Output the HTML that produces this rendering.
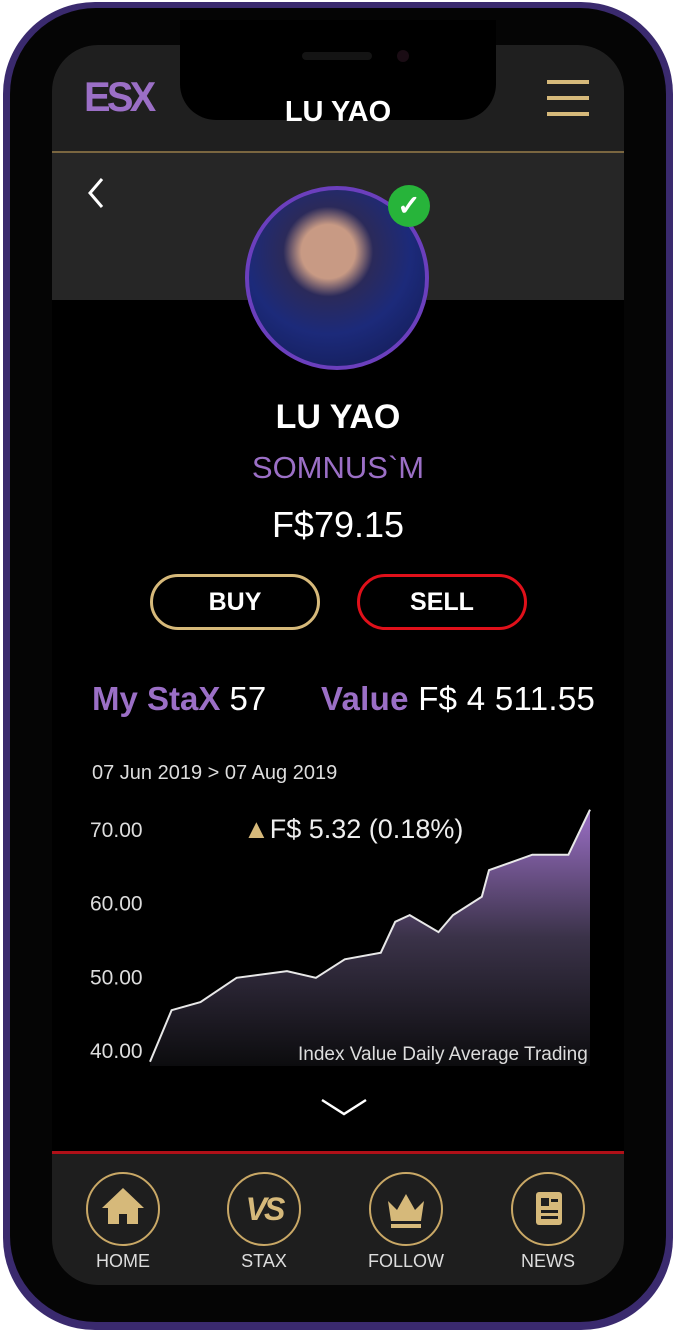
<!DOCTYPE html>
<html><head><meta charset="utf-8">
<style>
*{margin:0;padding:0;box-sizing:border-box}
body{width:676px;height:1334px;background:#fff;position:relative;overflow:hidden;font-family:"Liberation Sans Narrow","Liberation Sans",sans-serif}
.abs{position:absolute}
.t{position:absolute;white-space:nowrap;text-align:center}
</style></head><body>
<div class="abs" style="left:3px;top:2px;width:670px;height:1328px;border-radius:92px;background:#3a2a6e;"></div>
<div class="abs" style="left:10px;top:8px;width:656px;height:1314px;border-radius:86px;background:#050505;"></div>
<div class="abs" style="left:52px;top:45px;width:572px;height:1240px;border-radius:46px;background:#000;overflow:hidden;">
  <div class="abs" style="left:0;top:0;width:572px;height:107px;background:#1f1f1f"></div>
  <div class="abs" style="left:0;top:106px;width:572px;height:2px;background:#7a6640"></div>
  <div class="abs" style="left:0;top:108px;width:572px;height:147px;background:#262626"></div>
  <div class="abs" style="left:0;top:1106px;width:572px;height:134px;background:#1e1e1e;border-top:3px solid #b01018"></div>
</div>
<div class="abs" style="left:180px;top:20px;width:316px;height:100px;background:#000;border-radius:0 0 36px 36px"></div>
<div class="abs" style="left:302px;top:52px;width:70px;height:8px;background:#141414;border-radius:4px"></div>
<div class="abs" style="left:397px;top:50px;width:12px;height:12px;background:#1a0c14;border-radius:6px"></div>

<div class="t" style="left:84px;top:76px;font-family:'Liberation Sans',sans-serif;font-size:42px;font-weight:900;color:#9b6fc6;letter-spacing:-4px;line-height:42px;transform:scaleX(0.95);transform-origin:left">ESX</div>
<div class="t" style="left:238px;top:96px;width:200px;font-size:29px;font-weight:bold;color:#fff">LU YAO</div>
<div class="abs" style="left:547px;top:80px;width:42px;height:38px">
  <div class="abs" style="left:0;top:0;width:42px;height:4px;background:#d6b97a"></div>
  <div class="abs" style="left:0;top:16px;width:42px;height:4px;background:#d6b97a"></div>
  <div class="abs" style="left:0;top:32px;width:42px;height:4px;background:#d6b97a"></div>
</div>
<svg class="abs" style="left:86px;top:176px" width="22" height="34"><polyline points="16,3 4,17 16,31" fill="none" stroke="#fff" stroke-width="3"/></svg>

<div class="abs" style="left:245px;top:186px;width:184px;height:184px;border-radius:50%;border:4px solid #6b3fbd;background:radial-gradient(circle at 45% 35%,#c89a84 0 18%,#2b2a5a 30%,#1c2a7a 55%,#162060 80%)"></div>
<div class="abs" style="left:388px;top:185px;width:42px;height:42px;border-radius:50%;background:#27b43a;color:#fff;font-size:28px;font-weight:bold;text-align:center;line-height:42px">✓</div>

<div class="t" style="left:238px;top:398px;width:200px;font-size:34px;font-weight:bold;color:#fff">LU YAO</div>
<div class="t" style="left:218px;top:450px;width:240px;font-size:31px;color:#9b6fc6">SOMNUS`M</div>
<div class="t" style="left:218px;top:504px;width:240px;font-size:36px;color:#fff">F$79.15</div>

<div class="t" style="left:150px;top:574px;width:170px;height:56px;border:3px solid #d6b97a;border-radius:28px;font-size:25px;font-weight:bold;color:#fff;line-height:50px">BUY</div>
<div class="t" style="left:357px;top:574px;width:170px;height:56px;border:3px solid #e0101a;border-radius:28px;font-size:25px;font-weight:bold;color:#fff;line-height:50px">SELL</div>

<div class="t" style="left:92px;top:680px;font-size:33px;text-align:left"><span style="color:#9b6fc6;font-weight:bold">My StaX</span> <span style="color:#fff">57</span></div>
<div class="t" style="left:321px;top:680px;font-size:33px;text-align:left;letter-spacing:0.3px"><span style="color:#9b6fc6;font-weight:bold">Value</span> <span style="color:#fff">F$ 4 511.55</span></div>
<div class="t" style="left:92px;top:762px;font-size:20px;color:#ddd;text-align:left">07 Jun 2019 &gt; 07 Aug 2019</div>

<svg class="abs" style="left:0;top:0" width="676" height="1334" id="chart">
  <defs><linearGradient id="g" x1="0" y1="0" x2="0" y2="1">
    <stop offset="0" stop-color="#9b6fc6"/><stop offset="0.5" stop-color="#3a3248"/><stop offset="1" stop-color="#0c0c0e"/></linearGradient></defs>
</svg>
<div class="t" style="left:243px;top:814px;font-size:27px;color:#eee;text-align:left"><span style="color:#d6b97a">▲</span>F$ 5.32 (0.18%)</div>
<div class="t" style="left:298px;top:1044px;font-size:19px;color:#ddd;text-align:left">Index Value Daily Average Trading</div>
<svg class="abs" style="left:320px;top:1096px" width="48" height="22"><polyline points="2,4 24,18 46,4" fill="none" stroke="#fff" stroke-width="2.5"/></svg>

<div class="abs" style="left:86px;top:1172px;width:74px;height:74px;border:2px solid #c9a866;border-radius:50%">
  <svg width="70" height="70"><polygon points="35,14 14,34 20,34 20,50 31,50 31,40 39,40 39,50 50,50 50,34 56,34" fill="#d6b97a"/></svg></div>
<div class="abs" style="left:227px;top:1172px;width:74px;height:74px;border:2px solid #c9a866;border-radius:50%;color:#d6b97a;font-size:32px;font-weight:bold;font-style:italic;text-align:center;line-height:70px;letter-spacing:-3px">VS</div>
<div class="abs" style="left:369px;top:1172px;width:74px;height:74px;border:2px solid #c9a866;border-radius:50%">
  <svg width="70" height="70"><polygon points="17,27 26,36 35,20 44,36 53,27 50,47 20,47" fill="#d6b97a"/><rect x="20" y="50" width="30" height="4" fill="#d6b97a"/></svg></div>
<div class="abs" style="left:511px;top:1172px;width:74px;height:74px;border:2px solid #c9a866;border-radius:50%">
  <svg width="70" height="70"><rect x="23" y="18" width="26" height="33" rx="3" fill="#d6b97a"/><rect x="28" y="24" width="8" height="8" fill="#1e1e1e"/><rect x="38" y="25" width="7" height="3" fill="#1e1e1e"/><rect x="28" y="36" width="17" height="3" fill="#1e1e1e"/><rect x="28" y="42" width="17" height="3" fill="#1e1e1e"/></svg></div>
<div class="t" style="left:83px;top:1251px;width:80px;font-size:18px;color:#ddd">HOME</div>
<div class="t" style="left:224px;top:1251px;width:80px;font-size:18px;color:#ddd">STAX</div>
<div class="t" style="left:366px;top:1251px;width:80px;font-size:18px;color:#ddd">FOLLOW</div>
<div class="t" style="left:508px;top:1251px;width:80px;font-size:18px;color:#ddd">NEWS</div>

<script>
const days = [0,3,7,12,19,23,27,32,34,36,40,42,46,47,53,58,61];
const values = [38.4,45.4,46.5,49.8,50.7,49.8,52.3,53.2,57.4,58.3,56.0,58.3,60.8,64.4,66.5,66.5,72.6];
const yTicks = [40,50,60,70];
const yTickLabels = ["40.00","50.00","60.00","70.00"];
const svg = document.getElementById('chart');
const NS = 'http://www.w3.org/2000/svg';
const x = d => 150 + (d - 0) * (590 - 150) / 61;
const y = v => 1050 - (v - 40) * 7.37;
const baseY = 1066;
let pts = days.map((d,i)=> x(d).toFixed(1)+','+y(values[i]).toFixed(1));
const area = document.createElementNS(NS,'polygon');
area.setAttribute('points', pts.join(' ')+' '+x(days[days.length-1]).toFixed(1)+','+baseY+' '+x(days[0]).toFixed(1)+','+baseY);
area.setAttribute('fill','url(#g)');


svg.appendChild(area);
const line = document.createElementNS(NS,'polyline');
line.setAttribute('points', pts.join(' '));
line.setAttribute('fill','none');
line.setAttribute('stroke','#e8e8e8');
line.setAttribute('stroke-width','2');


svg.appendChild(line);
yTicks.forEach((t,i)=>{
  const tx = document.createElementNS(NS,'text');
  tx.setAttribute('x', 90);
  tx.setAttribute('y', y(t)+8);
  tx.setAttribute('fill','#ddd');
  tx.setAttribute('font-size','21');
  tx.setAttribute('font-family','"Liberation Sans Narrow","Liberation Sans",sans-serif');
  tx.textContent = yTickLabels[i];
  
  
  svg.appendChild(tx);
});
</script>
</body></html>
